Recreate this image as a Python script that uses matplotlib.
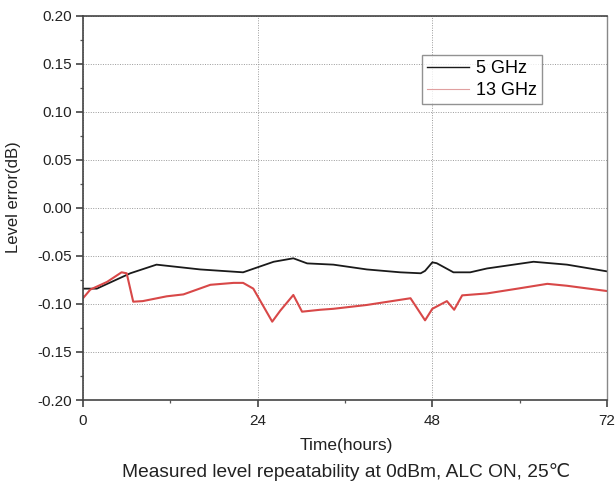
import matplotlib
matplotlib.use("Agg")
import matplotlib.pyplot as plt
from matplotlib.ticker import MultipleLocator

plt.rcParams['font.family'] = ['Liberation Sans', 'DejaVu Sans']
plt.rcParams['axes.unicode_minus'] = False

hours_5 = [0, 1.9, 6.5, 10.1, 16.1, 22, 23.9, 26.2, 28.9, 30.8, 34.4, 39, 43.6, 46.4, 47.0,
           48.0, 48.6, 50.9, 53.2, 55.5, 61.9, 66.5, 72]
err_5 = [-0.084, -0.084, -0.068, -0.059, -0.064, -0.067, -0.062, -0.056, -0.0524, -0.0577,
         -0.059, -0.064, -0.067, -0.068, -0.0655, -0.0566, -0.0575, -0.067, -0.067, -0.063,
         -0.056, -0.059, -0.066]

hours_13 = [0, 1, 3.3, 5.3, 6.0, 6.9, 8.2, 11.5, 13.8, 17.5, 20.7, 22, 23.4, 26, 27.1, 28.9,
            30.1, 32.6, 34.4, 39, 45, 47, 48, 50, 51, 52.1, 55.5, 59.7, 63.8, 66.5, 72]
err_13 = [-0.094, -0.085, -0.077, -0.067, -0.068, -0.0976, -0.097, -0.092, -0.090, -0.080,
          -0.078, -0.078, -0.084, -0.1184, -0.107, -0.0906, -0.108, -0.106, -0.105, -0.101,
          -0.094, -0.117, -0.105, -0.097, -0.106, -0.091, -0.089, -0.084, -0.079, -0.081,
          -0.0865]

x_ticks = [0, 24, 48, 72]
y_ticks = [-0.20, -0.15, -0.10, -0.05, 0.00, 0.05, 0.10, 0.15, 0.20]

fig = plt.figure(figsize=(6.16, 4.87), dpi=100)
ax = fig.add_axes([83/616, 1-400/487, 524/616, 384/487])

ax.plot(hours_5, err_5, color='#1a1a1a', lw=1.3, label='5 GHz')
ax.plot(hours_13, err_13, color='#d84848', lw=1.5, label='13 GHz')

ax.set_xlim(0, 72)
ax.set_ylim(-0.20, 0.20)
ax.set_xticks(x_ticks)
ax.set_yticks(y_ticks)
ax.set_yticklabels([f"{v:.2f}" for v in y_ticks])
ax.xaxis.set_minor_locator(MultipleLocator(12))
ax.yaxis.set_minor_locator(MultipleLocator(0.025))
ax.tick_params(which='major', direction='out', length=5, width=1.1, labelsize=11,
               colors='#333333', labelcolor='#222222', pad=3)
ax.tick_params(which='minor', direction='out', length=2.5, width=0.9, colors='#555555')
ax.tick_params(axis='x', which='major', pad=5)

ax.grid(True, which='major', linestyle=(0, (1, 1.5)), color='#9a9a9a', lw=0.7)
for side in ['left', 'bottom', 'top']:
    ax.spines[side].set_color('#444444')
    ax.spines[side].set_linewidth(1.2)
ax.spines['right'].set_color('#888888')
ax.spines['right'].set_linewidth(1.0)

ax.set_xlabel('Time(hours)', fontsize=12.5, color='#222222')
ax.set_ylabel('Level error(dB)', fontsize=12, color='#222222')
ax.xaxis.set_label_coords((346-83)/524, (400-438)/384)
ax.yaxis.set_label_coords((21-83)/524, (400-197)/384)

leg = ax.legend(loc='upper left', bbox_to_anchor=((421.7-83)/524, (400-55)/384),
                fontsize=13, frameon=True, fancybox=False, handlelength=2.3,
                handletextpad=0.4, borderpad=0.3, labelspacing=0.25, borderaxespad=0)
leg.get_frame().set_edgecolor('#777777')
leg.get_frame().set_linewidth(1.0)
leg.get_lines()[1].set_linewidth(0.8)
leg.get_lines()[1].set_color('#e0a0a0')
leg.get_lines()[0].set_linewidth(1.0)

fig.text(346/616, 1-472/487, 'Measured level repeatability at 0dBm, ALC ON, 25℃',
         ha='center', va='center', fontsize=13.8, color='#222222')

fig.savefig('out.png', dpi=100, facecolor='white')
